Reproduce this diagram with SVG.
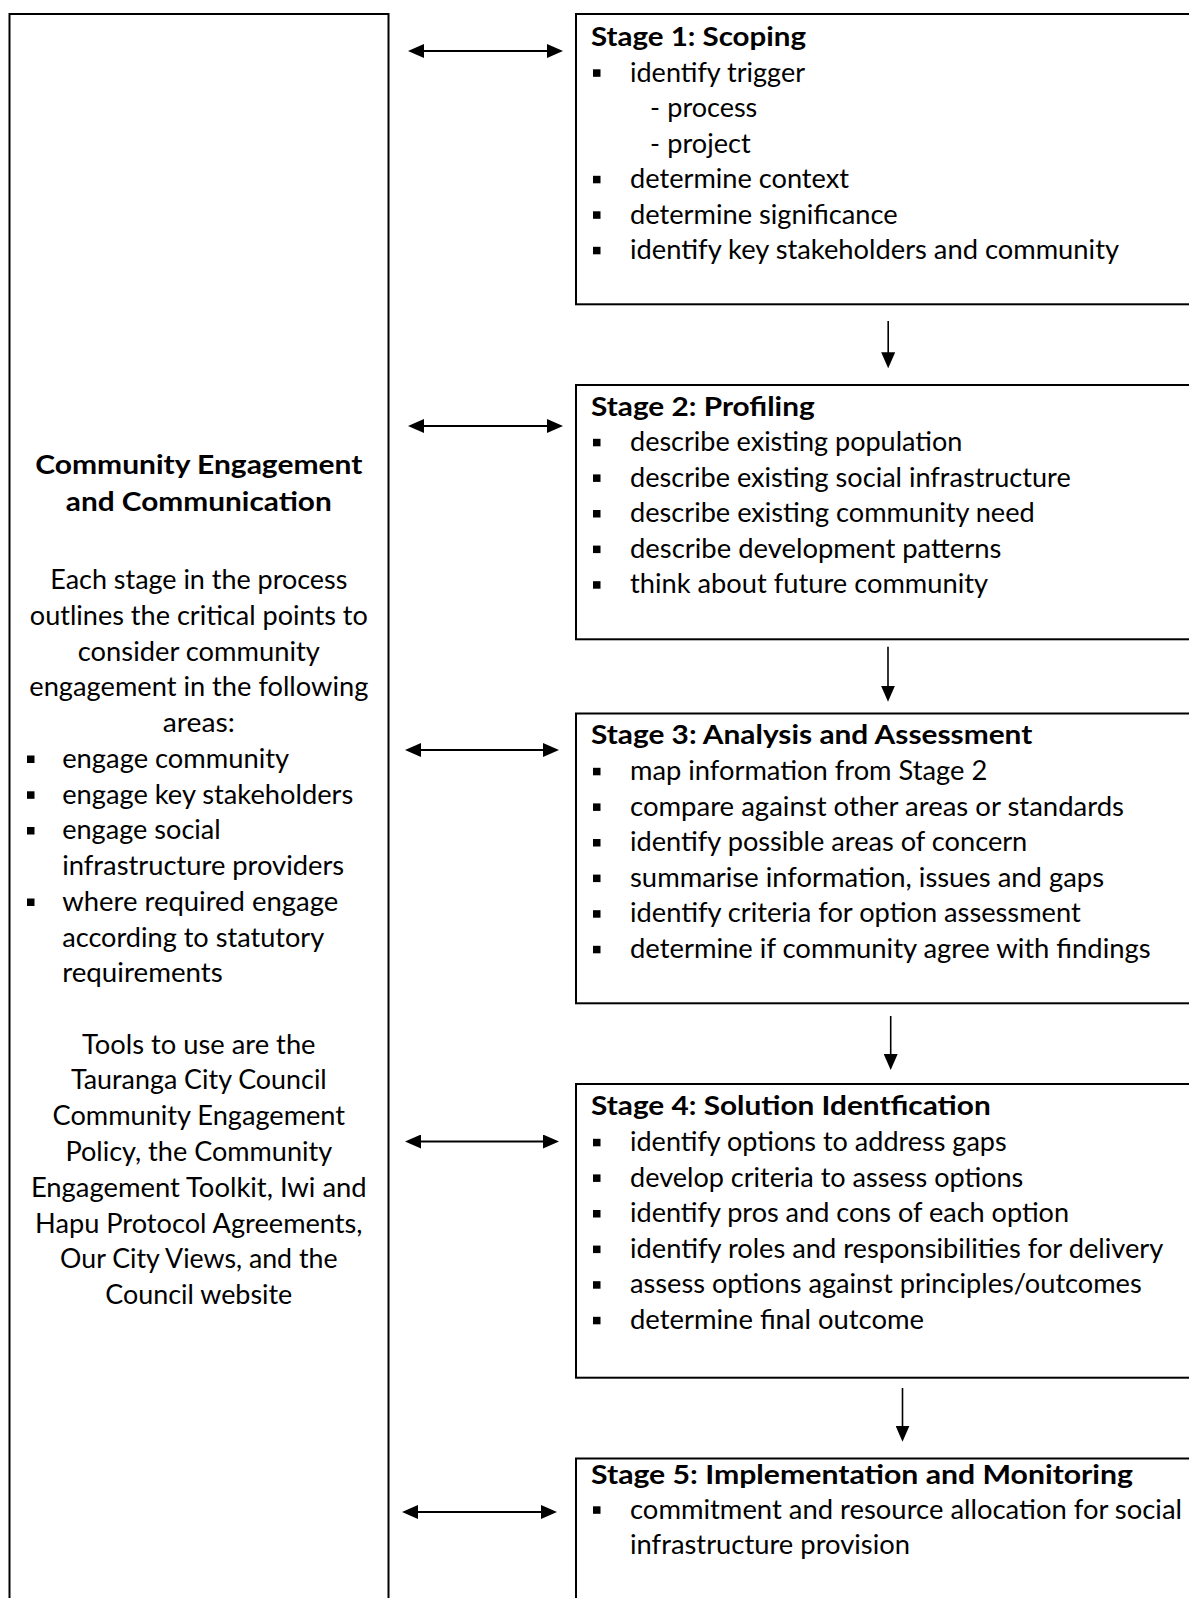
<svg xmlns="http://www.w3.org/2000/svg" width="1189" height="1598" viewBox="0 0 1189 1598">
  <style>
    .box { fill: #fff; stroke: #000; stroke-width: 2; }
    .t { font-family: Lato, "Open Sans", "Liberation Sans", sans-serif; font-size: 26.8px; fill: #000; }
    .b { font-weight: bold; }
    .c { text-anchor: middle; }
    .bul { fill: #000; }
    .link { stroke: #000; fill: none; }
    .h { stroke-width: 2.2; marker-start: url(#head); marker-end: url(#head); }
    .v { stroke-width: 1.6; marker-end: url(#head); }
  </style>
  <defs>
    <marker id="head" viewBox="0 0 16 14" refX="5" refY="7" markerWidth="16" markerHeight="14" markerUnits="userSpaceOnUse" orient="auto-start-reverse">
      <path d="M0,0 L16,7 L0,14 z" fill="#000"/>
    </marker>
  </defs>

  <rect width="1189" height="1598" fill="#fff"/>

  <!-- left panel: engagement and communication -->
  <g id="engagement-panel">
    <rect class="box" x="9.5" y="14" width="379" height="1610"/>
    <text class="t b c" x="198.8" y="474" textLength="327" lengthAdjust="spacingAndGlyphs">Community Engagement</text>
    <text class="t b c" x="198.8" y="511" textLength="266" lengthAdjust="spacingAndGlyphs">and Communication</text>

    <text class="t c" x="198.8" y="589" textLength="297" lengthAdjust="spacingAndGlyphs">Each stage in the process</text>
    <text class="t c" x="198.8" y="624.8" textLength="338" lengthAdjust="spacingAndGlyphs">outlines the critical points to</text>
    <text class="t c" x="198.8" y="660.5" textLength="242" lengthAdjust="spacingAndGlyphs">consider community</text>
    <text class="t c" x="198.8" y="696.3" textLength="339" lengthAdjust="spacingAndGlyphs">engagement in the following</text>
    <text class="t c" x="198.8" y="732" textLength="72" lengthAdjust="spacingAndGlyphs">areas:</text>

    <rect class="bul" x="27" y="755.5" width="7.5" height="7.5"/>
    <text class="t" x="62.2" y="767.8" textLength="227" lengthAdjust="spacingAndGlyphs">engage community</text>
    <rect class="bul" x="27" y="791.3" width="7.5" height="7.5"/>
    <text class="t" x="62.2" y="803.5" textLength="291" lengthAdjust="spacingAndGlyphs">engage key stakeholders</text>
    <rect class="bul" x="27" y="827" width="7.5" height="7.5"/>
    <text class="t" x="62.2" y="839.3" textLength="158.5" lengthAdjust="spacingAndGlyphs">engage social</text>
    <text class="t" x="62.2" y="875" textLength="282" lengthAdjust="spacingAndGlyphs">infrastructure providers</text>
    <rect class="bul" x="27" y="898.5" width="7.5" height="7.5"/>
    <text class="t" x="62.2" y="910.8" textLength="276" lengthAdjust="spacingAndGlyphs">where required engage</text>
    <text class="t" x="62.2" y="946.5" textLength="262" lengthAdjust="spacingAndGlyphs">according to statutory</text>
    <text class="t" x="62.2" y="982.3" textLength="160.6" lengthAdjust="spacingAndGlyphs">requirements</text>

    <text class="t c" x="198.8" y="1053.6" textLength="233.5" lengthAdjust="spacingAndGlyphs">Tools to use are the</text>
    <text class="t c" x="198.8" y="1089.4" textLength="255.8" lengthAdjust="spacingAndGlyphs">Tauranga City Council</text>
    <text class="t c" x="198.8" y="1125.2" textLength="292.5" lengthAdjust="spacingAndGlyphs">Community Engagement</text>
    <text class="t c" x="198.8" y="1161" textLength="266.8" lengthAdjust="spacingAndGlyphs">Policy, the Community</text>
    <text class="t c" x="198.8" y="1196.8" textLength="335.8" lengthAdjust="spacingAndGlyphs">Engagement Toolkit, Iwi and</text>
    <text class="t c" x="198.8" y="1232.6" textLength="327.5" lengthAdjust="spacingAndGlyphs">Hapu Protocol Agreements,</text>
    <text class="t c" x="198.8" y="1268.4" textLength="277.4" lengthAdjust="spacingAndGlyphs">Our City Views, and the</text>
    <text class="t c" x="198.8" y="1304.2" textLength="187" lengthAdjust="spacingAndGlyphs">Council website</text>
  </g>

  <!-- Stage 1 -->
  <g id="stage1">
    <rect class="box" x="576" y="14" width="700" height="290.3"/>
    <text class="t b" x="591" y="46" textLength="215" lengthAdjust="spacingAndGlyphs">Stage 1: Scoping</text>
    <rect class="bul" x="593" y="69.3" width="7.5" height="7.5"/>
    <text class="t" x="630" y="81.5" textLength="175" lengthAdjust="spacingAndGlyphs">identify trigger</text>
    <text class="t" x="650" y="117">-</text>
    <text class="t" x="667.3" y="117" textLength="90" lengthAdjust="spacingAndGlyphs">process</text>
    <text class="t" x="650" y="152.5">-</text>
    <text class="t" x="667.3" y="152.5" textLength="83.4" lengthAdjust="spacingAndGlyphs">project</text>
    <rect class="bul" x="593" y="175.8" width="7.5" height="7.5"/>
    <text class="t" x="630" y="188" textLength="219" lengthAdjust="spacingAndGlyphs">determine context</text>
    <rect class="bul" x="593" y="211.3" width="7.5" height="7.5"/>
    <text class="t" x="630" y="223.5" textLength="267.7" lengthAdjust="spacingAndGlyphs">determine significance</text>
    <rect class="bul" x="593" y="246.8" width="7.5" height="7.5"/>
    <text class="t" x="630" y="259" textLength="489" lengthAdjust="spacingAndGlyphs">identify key stakeholders and community</text>
  </g>

  <!-- Stage 2 -->
  <g id="stage2">
    <rect class="box" x="576" y="385" width="700" height="254.3"/>
    <text class="t b" x="591" y="415.5" textLength="223.7" lengthAdjust="spacingAndGlyphs">Stage 2: Profiling</text>
    <rect class="bul" x="593" y="438.8" width="7.5" height="7.5"/>
    <text class="t" x="630" y="451" textLength="332.3" lengthAdjust="spacingAndGlyphs">describe existing population</text>
    <rect class="bul" x="593" y="474.4" width="7.5" height="7.5"/>
    <text class="t" x="630" y="486.6" textLength="440.7" lengthAdjust="spacingAndGlyphs">describe existing social infrastructure</text>
    <rect class="bul" x="593" y="510" width="7.5" height="7.5"/>
    <text class="t" x="630" y="522.2" textLength="404.7" lengthAdjust="spacingAndGlyphs">describe existing community need</text>
    <rect class="bul" x="593" y="545.6" width="7.5" height="7.5"/>
    <text class="t" x="630" y="557.8" textLength="371.3" lengthAdjust="spacingAndGlyphs">describe development patterns</text>
    <rect class="bul" x="593" y="581.2" width="7.5" height="7.5"/>
    <text class="t" x="630" y="593.4" textLength="358" lengthAdjust="spacingAndGlyphs">think about future community</text>
  </g>

  <!-- Stage 3 -->
  <g id="stage3">
    <rect class="box" x="576" y="713.5" width="700" height="289.8"/>
    <text class="t b" x="591" y="744" textLength="441.3" lengthAdjust="spacingAndGlyphs">Stage 3: Analysis and Assessment</text>
    <rect class="bul" x="593" y="767.8" width="7.5" height="7.5"/>
    <text class="t" x="630" y="780" textLength="357.3" lengthAdjust="spacingAndGlyphs">map information from Stage 2</text>
    <rect class="bul" x="593" y="803.4" width="7.5" height="7.5"/>
    <text class="t" x="630" y="815.6" textLength="494" lengthAdjust="spacingAndGlyphs">compare against other areas or standards</text>
    <rect class="bul" x="593" y="839" width="7.5" height="7.5"/>
    <text class="t" x="630" y="851.2" textLength="397.3" lengthAdjust="spacingAndGlyphs">identify possible areas of concern</text>
    <rect class="bul" x="593" y="874.6" width="7.5" height="7.5"/>
    <text class="t" x="630" y="886.8" textLength="474" lengthAdjust="spacingAndGlyphs">summarise information, issues and gaps</text>
    <rect class="bul" x="593" y="910.2" width="7.5" height="7.5"/>
    <text class="t" x="630" y="922.4" textLength="450.7" lengthAdjust="spacingAndGlyphs">identify criteria for option assessment</text>
    <rect class="bul" x="593" y="945.8" width="7.5" height="7.5"/>
    <text class="t" x="630" y="958" textLength="520.7" lengthAdjust="spacingAndGlyphs">determine if community agree with findings</text>
  </g>

  <!-- Stage 4 -->
  <g id="stage4">
    <rect class="box" x="576" y="1084" width="700" height="293.7"/>
    <text class="t b" x="591" y="1115" textLength="399.7" lengthAdjust="spacingAndGlyphs">Stage 4: Solution Identfication</text>
    <rect class="bul" x="593" y="1138.8" width="7.5" height="7.5"/>
    <text class="t" x="630" y="1151" textLength="376.7" lengthAdjust="spacingAndGlyphs">identify options to address gaps</text>
    <rect class="bul" x="593" y="1174.4" width="7.5" height="7.5"/>
    <text class="t" x="630" y="1186.6" textLength="393.3" lengthAdjust="spacingAndGlyphs">develop criteria to assess options</text>
    <rect class="bul" x="593" y="1210" width="7.5" height="7.5"/>
    <text class="t" x="630" y="1222.2" textLength="439" lengthAdjust="spacingAndGlyphs">identify pros and cons of each option</text>
    <rect class="bul" x="593" y="1245.6" width="7.5" height="7.5"/>
    <text class="t" x="630" y="1257.8" textLength="533.3" lengthAdjust="spacingAndGlyphs">identify roles and responsibilities for delivery</text>
    <rect class="bul" x="593" y="1281.2" width="7.5" height="7.5"/>
    <text class="t" x="630" y="1293.4" textLength="511.7" lengthAdjust="spacingAndGlyphs">assess options against principles/outcomes</text>
    <rect class="bul" x="593" y="1316.8" width="7.5" height="7.5"/>
    <text class="t" x="630" y="1329" textLength="294" lengthAdjust="spacingAndGlyphs">determine final outcome</text>
  </g>

  <!-- Stage 5 -->
  <g id="stage5">
    <rect class="box" x="576" y="1458.5" width="700" height="200"/>
    <text class="t b" x="591" y="1483.5" textLength="542" lengthAdjust="spacingAndGlyphs">Stage 5: Implementation and Monitoring</text>
    <rect class="bul" x="593" y="1506.3" width="7.5" height="7.5"/>
    <text class="t" x="630" y="1518.5" textLength="552" lengthAdjust="spacingAndGlyphs">commitment and resource allocation for social</text>
    <text class="t" x="630" y="1554" textLength="280" lengthAdjust="spacingAndGlyphs">infrastructure provision</text>
  </g>

  <!-- connectors: two-way links to the panel and the downward flow between stages -->
  <g id="connectors">
    <line class="link h" x1="419" y1="51" x2="552" y2="51"/>
    <line class="link h" x1="419" y1="426" x2="552" y2="426"/>
    <line class="link h" x1="416" y1="750" x2="548" y2="750"/>
    <line class="link h" x1="416" y1="1141.5" x2="548" y2="1141.5"/>
    <line class="link h" x1="413" y1="1512" x2="546" y2="1512"/>

    <line class="link v" x1="888.2" y1="321" x2="888.2" y2="357.3"/>
    <line class="link v" x1="888" y1="646.7" x2="888" y2="690.7"/>
    <line class="link v" x1="890.7" y1="1016" x2="890.7" y2="1059"/>
    <line class="link v" x1="902.5" y1="1388" x2="902.5" y2="1430.7"/>
  </g>
</svg>
